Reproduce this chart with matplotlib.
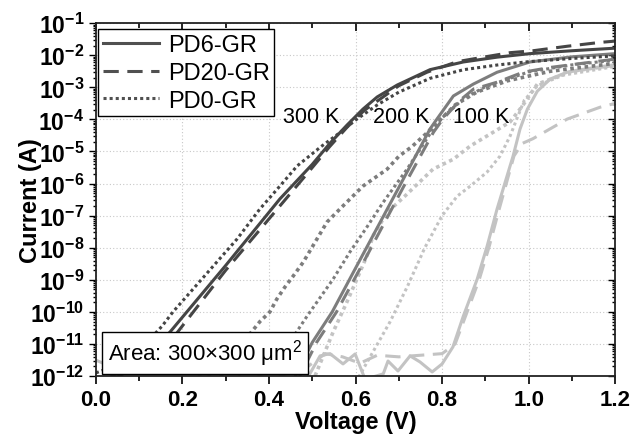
import numpy as np
import matplotlib
matplotlib.use("Agg")
import matplotlib.pyplot as plt
from matplotlib.lines import Line2D
from matplotlib.ticker import FuncFormatter, LogLocator, MultipleLocator

# --- data (voltage in V, current as log10(A)) ---
# 300 K
V_300_PD6 = [0.00, 0.10, 0.171, 0.30, 0.425, 0.50, 0.541, 0.58, 0.617, 0.65, 0.696, 0.772, 0.849, 0.927, 1.003, 1.10, 1.20]
LOG_300_PD6 = [-12.3, -11.5, -10.63, -8.55, -6.48, -5.40, -4.74, -4.18, -3.68, -3.30, -2.93, -2.45, -2.21, -2.06, -1.95, -1.86, -1.78]

V_300_PD20 = [0.00, 0.10, 0.18, 0.30, 0.43, 0.50, 0.54, 0.58, 0.62, 0.70, 0.765, 0.835, 0.904, 0.957, 1.01, 1.089, 1.165, 1.20]
LOG_300_PD20 = [-12.4, -11.65, -10.78, -8.70, -6.62, -5.50, -4.85, -4.25, -3.72, -2.95, -2.53, -2.20, -2.04, -1.92, -1.86, -1.72, -1.60, -1.56]

V_300_PD0 = [0.00, 0.08, 0.153, 0.178, 0.326, 0.379, 0.425, 0.465, 0.52, 0.56, 0.60, 0.65, 0.70, 0.772, 0.85, 0.93, 1.00, 1.10, 1.20]
LOG_300_PD0 = [-11.9, -11.5, -10.44, -10.0, -7.73, -6.79, -6.08, -5.45, -4.85, -4.45, -4.02, -3.55, -3.15, -2.72, -2.45, -2.30, -2.20, -2.10, -2.02]

# 200 K
V_200_PD6 = [0.45, 0.50, 0.546, 0.599, 0.70, 0.772, 0.788, 0.826, 0.872, 0.927, 1.003, 1.10, 1.20]
LOG_200_PD6 = [-12.3, -10.95, -10.0, -8.66, -6.12, -4.30, -3.99, -3.27, -2.90, -2.53, -2.21, -2.05, -1.95]

V_200_PD20 = [0.46, 0.51, 0.556, 0.61, 0.71, 0.78, 0.80, 0.84, 0.872, 0.927, 0.987, 1.05, 1.20]
LOG_200_PD20 = [-12.3, -10.95, -10.0, -8.66, -6.12, -4.40, -4.02, -3.42, -3.06, -2.84, -2.53, -2.38, -2.12]

V_200_PD0 = [0.42, 0.45, 0.488, 0.548, 0.587, 0.626, 0.664, 0.719, 0.772, 0.80, 0.85, 0.90, 1.00, 1.10, 1.20]
LOG_200_PD0 = [-11.7, -10.9, -10.13, -8.98, -8.13, -7.36, -6.58, -5.55, -4.45, -3.95, -3.35, -2.98, -2.52, -2.30, -2.15]

V_200_PD0B = [0.28, 0.33, 0.352, 0.379, 0.402, 0.418, 0.437, 0.456, 0.479, 0.534, 0.564, 0.617, 0.673, 0.70, 0.73, 0.765, 0.80, 0.83, 0.88, 0.95, 1.05, 1.20]
LOG_200_PD0B = [-12.2, -11.1, -10.75, -10.3, -10.0, -9.6, -9.22, -8.88, -8.45, -7.20, -6.79, -6.08, -5.55, -5.15, -4.85, -4.42, -3.95, -3.55, -3.15, -2.80, -2.50, -2.25]

# 100 K
V_100_PD6 = [0.47, 0.518, 0.541, 0.571, 0.599, 0.622, 0.664, 0.675, 0.698, 0.726, 0.749, 0.777, 0.800, 0.825, 0.849, 0.881, 0.904, 0.927, 0.964, 0.980, 0.997, 1.020, 1.050, 1.089, 1.135, 1.20]
LOG_100_PD6 = [-12.5, -11.37, -11.3, -11.62, -11.31, -12.1, -11.93, -11.53, -11.84, -11.37, -11.56, -11.87, -11.62, -11.09, -10.13, -8.98, -7.95, -6.79, -5.14, -4.30, -3.68, -3.12, -2.74, -2.53, -2.43, -2.32]

V_100_PD20 = [0.00, 0.05, 0.10, 0.15, 0.20, 0.25, 0.30, 0.35, 0.40, 0.45, 0.50, 0.53, 0.57, 0.61, 0.65, 0.70, 0.75, 0.80, 0.83, 0.855, 0.886, 0.909, 0.932, 0.966, 0.985, 1.01, 1.089, 1.165, 1.20]
LOG_100_PD20 = [-11.5, -11.8, -11.4, -11.9, -11.6, -12.1, -11.7, -12.2, -11.8, -12.1, -11.6, -11.3, -11.4, -11.6, -11.35, -11.4, -11.35, -11.3, -11.0, -10.1, -8.98, -7.95, -6.79, -5.14, -4.75, -4.60, -3.99, -3.62, -3.50]

V_100_PD0 = [0.60, 0.64, 0.68, 0.72, 0.76, 0.80, 0.835, 0.865, 0.904, 0.934, 0.957, 0.975, 0.99, 1.02, 1.08, 1.20]
LOG_100_PD0 = [-12.2, -11.25, -10.3, -9.2, -8.0, -7.0, -6.39, -6.08, -5.64, -5.14, -4.52, -3.90, -3.40, -2.95, -2.62, -2.35]

V_100_PD0B = [0.50, 0.548, 0.58, 0.603, 0.626, 0.640, 0.673, 0.714, 0.779, 0.826, 0.865, 0.918, 0.957, 0.985, 1.02, 1.10, 1.20]
LOG_100_PD0B = [-12.2, -10.63, -9.69, -8.98, -8.26, -7.64, -6.90, -6.39, -5.55, -5.24, -4.83, -4.40, -4.08, -3.59, -2.90, -2.50, -2.30]

LEGEND_LABELS = ["PD6-GR", "PD20-GR", "PD0-GR"]
TEMP_LABELS = ["300 K", "200 K", "100 K"]
TEMP_LABEL_V = [0.498, 0.705, 0.891]
TEMP_LABEL_I = 1.26e-4

DARK = "#454545"
MID = "#7d7d7d"
LIGHT = "#c3c3c3"
SOLID = "-"
DASHED = (0, (5, 2.8))
DOTTED = (0, (1, 1))

plt.rcParams["font.family"] = ["Liberation Sans", "DejaVu Sans"]
plt.rcParams["mathtext.fontset"] = "custom"
plt.rcParams["mathtext.rm"] = "Liberation Sans"
plt.rcParams["mathtext.it"] = "Liberation Sans:italic"
plt.rcParams["mathtext.bf"] = "Liberation Sans:bold"


def curve(ax, v, logi, color, ls, lw=2.2):
    ax.plot(v, 10.0 ** np.asarray(logi), color=color, linestyle=ls, lw=lw,
            solid_capstyle="butt", dash_capstyle="butt")


def main() -> None:
    fig = plt.figure(figsize=(6.31, 4.39), dpi=100)
    ax = fig.add_axes([0.152, 0.141, 0.823, 0.804])

    # light first so the darker 300 K set ends up on top
    curve(ax, V_100_PD0B, LOG_100_PD0B, LIGHT, DOTTED, 2.6)
    curve(ax, V_100_PD0, LOG_100_PD0, LIGHT, DOTTED)
    curve(ax, V_100_PD20, LOG_100_PD20, LIGHT, DASHED)
    curve(ax, V_100_PD6, LOG_100_PD6, LIGHT, SOLID)

    curve(ax, V_200_PD0B, LOG_200_PD0B, MID, DOTTED, 2.6)
    curve(ax, V_200_PD0, LOG_200_PD0, MID, DOTTED)
    curve(ax, V_200_PD20, LOG_200_PD20, MID, DASHED)
    curve(ax, V_200_PD6, LOG_200_PD6, MID, SOLID)

    curve(ax, V_300_PD0, LOG_300_PD0, DARK, DOTTED)
    curve(ax, V_300_PD20, LOG_300_PD20, DARK, DASHED)
    curve(ax, V_300_PD6, LOG_300_PD6, DARK, SOLID)

    ax.set_yscale("log")
    ax.set_xlim(0.0, 1.2)
    ax.set_ylim(1e-12, 1e-1)

    ax.xaxis.set_major_locator(MultipleLocator(0.2))
    ax.xaxis.set_minor_locator(MultipleLocator(0.1))
    ax.xaxis.set_major_formatter(FuncFormatter(lambda x, p: f"{x:.1f}"))
    ax.yaxis.set_major_locator(LogLocator(base=10, numticks=20))
    ax.yaxis.set_minor_locator(LogLocator(base=10, subs=np.arange(2, 10), numticks=20))
    ax.yaxis.set_major_formatter(FuncFormatter(
        lambda y, p: r"$\mathbf{10^{%d}}$" % int(round(np.log10(y)))))

    ax.grid(True, which="major", linestyle=(0, (1, 2)), color="#c8c8c8", lw=0.8)
    ax.set_axisbelow(True)

    ax.tick_params(axis="x", which="both", bottom=True, top=True, direction="out",
                   labelsize=16, colors="black", width=1.2)
    ax.tick_params(axis="x", which="major", length=6)
    ax.tick_params(axis="x", which="minor", length=3.5)
    ax.tick_params(axis="y", which="both", left=True, right=True, direction="out",
                   labelsize=16.5, width=1.0)
    ax.tick_params(axis="y", which="major", length=5)
    ax.tick_params(axis="y", which="minor", length=2.5)
    # top and right ticks point inward in the original
    for t in ax.xaxis.get_major_ticks() + ax.xaxis.get_minor_ticks():
        t.tick2line.set_marker(3)
    for t in ax.yaxis.get_major_ticks() + ax.yaxis.get_minor_ticks():
        t.tick2line.set_marker(0)
    for lab in ax.get_xticklabels():
        lab.set_fontweight("bold")

    for s in ax.spines.values():
        s.set_linewidth(1.3)
        s.set_color("#222222")

    ax.set_xlabel("Voltage (V)", fontsize=17, fontweight="bold")
    ax.set_ylabel("Current (A)", fontsize=17, fontweight="bold")
    ax.xaxis.set_label_coords(0.5, -0.097)
    ax.yaxis.set_label_coords(-0.104, 0.5)

    for lab, v in zip(TEMP_LABELS, TEMP_LABEL_V):
        ax.text(v, TEMP_LABEL_I, lab, fontsize=15.5, ha="center", va="center")

    handles = [
        Line2D([], [], color="#505050", ls=SOLID, lw=2.2),
        Line2D([], [], color="#505050", ls=DASHED, lw=2.2),
        Line2D([], [], color="#505050", ls=DOTTED, lw=2.2),
    ]
    leg = ax.legend(handles, LEGEND_LABELS, loc="upper left", bbox_to_anchor=(0.004, 0.983),
                    borderaxespad=0, fontsize=17, frameon=True, fancybox=False,
                    edgecolor="black", framealpha=1, handlelength=2.4, handletextpad=0.35,
                    labelspacing=0.25, borderpad=0.2)
    leg.get_frame().set_linewidth(1.0)
    leg.set_zorder(10)

    ax.text(0.21, 0.066, "Area: 300\u00d7300 \u03bcm$^2$", transform=ax.transAxes,
            fontsize=16, ha="center", va="center", zorder=10,
            bbox=dict(boxstyle="square,pad=0.25", fc="white", ec="black", lw=1.0))

    fig.savefig("out.png", dpi=100)


if __name__ == "__main__":
    main()
